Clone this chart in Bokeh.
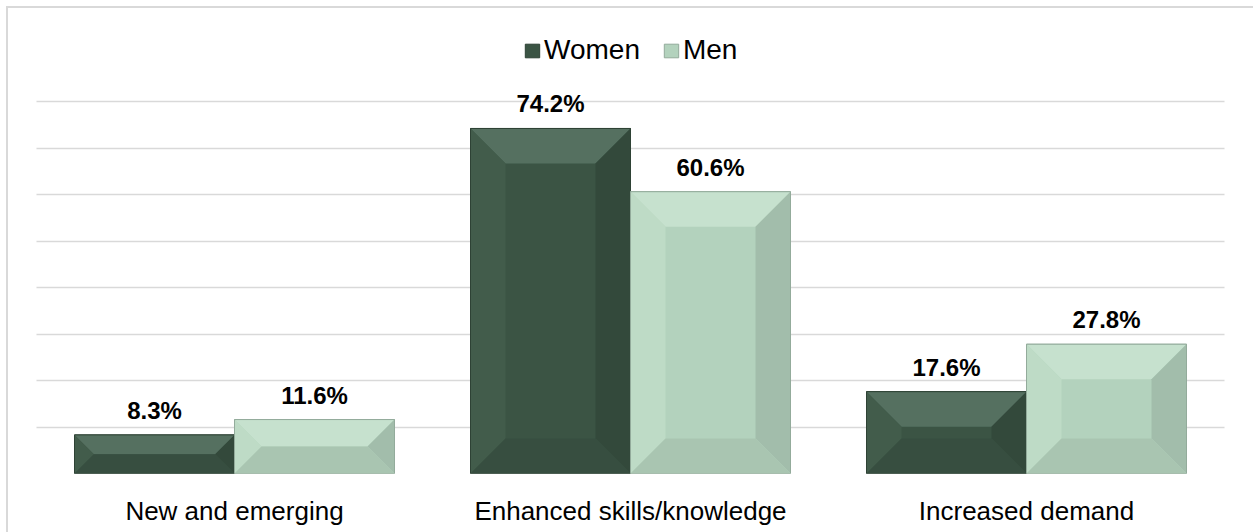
from bokeh.plotting import figure
from bokeh.models import FactorRange, Range1d, Legend, LegendItem, FixedTicker, ColumnDataSource
from bokeh.embed import file_html
from bokeh.resources import INLINE
from bokeh.core.properties import value

categories = ["New and emerging", "Enhanced skills/knowledge", "Increased demand"]
women = [8.3, 74.2, 17.6]
men = [11.6, 60.6, 27.8]
series_names = ["Women", "Men"]
grid_ticks = [0, 10, 20, 30, 40, 50, 60, 70, 80]

W, H = 1253, 532
BL, BR, BT, BB = 7, 0, 7, 59
frame_w = W - BL - BR
frame_h = H - BT - BB
px_y = 4.65                       # px per % unit
y_end = frame_h / px_y
side_px = 29                      # white gap between chart edge and first category
px_x = (frame_w - 2 * side_px) / len(categories)
pad = side_px / px_x
bar_w = 160 / px_x

x_range = FactorRange(*categories, range_padding=2 * pad / len(categories), range_padding_units="percent")
p = figure(width=W, height=H, x_range=x_range, y_range=Range1d(0, y_end),
           output_backend="svg", toolbar_location=None,
           min_border_left=BL, min_border_right=BR, min_border_top=BT, min_border_bottom=BB)
p.outline_line_color = None
p.background_fill_alpha = 0
p.border_fill_alpha = 0
# chart-area edge lines (left and top), drawn behind the transparent canvas
edge = "linear-gradient(#d9d9d9, #d9d9d9)"
p.styles = {"background": f"{edge} 6px 6px / 2px 100% no-repeat, {edge} 6px 6px / 100% 2px no-repeat, #ffffff"}

p.yaxis.visible = False
p.xgrid.grid_line_color = None
p.ygrid.ticker = FixedTicker(ticks=grid_ticks)
p.ygrid.grid_line_color = "#d9d9d9"
p.ygrid.grid_line_width = 1.6
p.ygrid.cross_bounds = (0, len(categories))
p.xaxis.axis_line_color = None
p.xaxis.major_tick_line_color = None
p.xaxis.minor_tick_line_color = None
p.xaxis.major_label_text_font = "Liberation Sans"
p.xaxis.major_label_text_font_size = "26px"
p.xaxis.major_label_text_color = "#000000"
p.xaxis.major_label_standoff = 16

styles = {
    "Women": dict(main="#3b5444", top="#557060", left="#425c4b", right="#33493b", bottom="#374e40", line="#2e4235"),
    "Men": dict(main="#b3d2bd", top="#c6e1ce", left="#bedbc6", right="#a2bdab", bottom="#a9c5b1", line="#93ab9b"),
}

legend_items = []
label_x, label_y, label_t = [], [], []
for name, vals, off in [("Women", women, -0.5), ("Men", men, 0.5)]:
    st = styles[name]
    xs_c = [i + 0.5 + off * bar_w for i in range(len(categories))]
    r = p.vbar(x=xs_c, top=vals, bottom=0, width=bar_w, fill_color=st["main"], line_color=st["line"], line_width=1)
    legend_items.append(LegendItem(label=name, renderers=[r]))
    tops_x, tops_y, lefts_x, lefts_y, rights_x, rights_y, bots_x, bots_y = [], [], [], [], [], [], [], []
    for xc, v in zip(xs_c, vals):
        L, R, T = xc - bar_w / 2, xc + bar_w / 2, v
        b_px = min(35, v * px_y / 2)
        bx, by = b_px / px_x, b_px / px_y
        tops_x.append([L, R, R - bx, L + bx]); tops_y.append([T, T, T - by, T - by])
        lefts_x.append([L, L, L + bx, L + bx]); lefts_y.append([0, T, T - by, by])
        rights_x.append([R, R, R - bx, R - bx]); rights_y.append([0, T, T - by, by])
        bots_x.append([L, R, R - bx, L + bx]); bots_y.append([0, 0, by, by])
        label_x.append(xc); label_y.append(v); label_t.append(f"{v:.1f}%")
    p.patches(tops_x, tops_y, fill_color=st["top"], line_color=None)
    p.patches(lefts_x, lefts_y, fill_color=st["left"], line_color=None)
    p.patches(rights_x, rights_y, fill_color=st["right"], line_color=None)
    p.patches(bots_x, bots_y, fill_color=st["bottom"], line_color=None)
    p.vbar(x=xs_c, top=vals, bottom=0, width=bar_w, fill_color=None, line_color=st["line"], line_width=1)

src = ColumnDataSource(dict(x=label_x, y=label_y, t=label_t))
p.text(x="x", y="y", text="t", source=src, text_align="center", text_baseline="bottom",
       y_offset=-11, text_font=value("Liberation Sans"), text_font_style="bold",
       text_font_size="24px", text_color="#000000")

legend = Legend(items=legend_items, orientation="horizontal", location=(487 + side_px, 407),
                label_text_font="Liberation Sans", label_text_font_size="28px", label_text_color="#000000",
                glyph_width=18, glyph_height=17, label_standoff=3, spacing=22,
                padding=0, margin=0, background_fill_alpha=0, border_line_color=None,
                label_height=28)
p.add_layout(legend, "center")

open("out.html", "w").write(file_html(p, INLINE))
